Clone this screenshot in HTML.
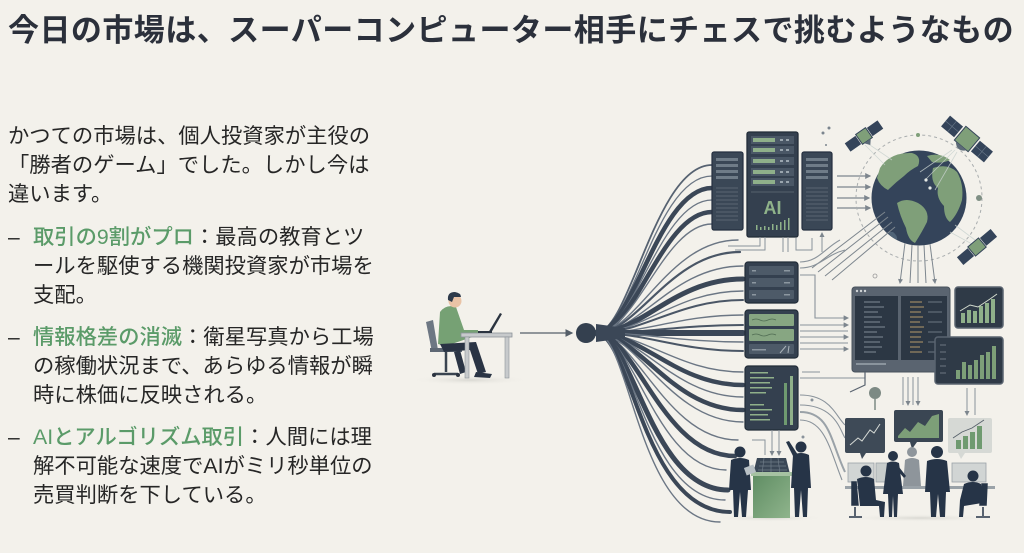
<!DOCTYPE html>
<html><head><meta charset="utf-8">
<style>
html,body{margin:0;padding:0;}
body{width:1024px;height:553px;overflow:hidden;background:#f3f1eb;position:relative;font-family:"Liberation Sans","Noto Sans CJK JP",sans-serif;}
.t{position:absolute;left:8px;top:11px;font-size:31px;font-weight:700;color:#2b303b;letter-spacing:0.45px;white-space:nowrap;line-height:40px;}
.l{position:absolute;font-size:21.3px;line-height:29px;color:#262626;white-space:nowrap;}
.g{color:#5b9b69;font-weight:500;}
.d{position:absolute;left:8px;font-size:21px;line-height:29px;color:#262626;}
svg{position:absolute;left:0;top:0;}
</style></head><body>
<svg width="1024" height="553" viewBox="0 0 1024 553">
<defs>
<marker id="ar" markerWidth="6" markerHeight="6" refX="5" refY="3" orient="auto"><path d="M0,0 L6,3 L0,6z" fill="#555f69"/></marker>
<marker id="ag" markerWidth="5" markerHeight="5" refX="4" refY="2.5" orient="auto"><path d="M0,0 L5,2.5 L0,5z" fill="#7d868e"/></marker>
<radialGradient id="sh" cx="50%" cy="50%" r="50%"><stop offset="0" stop-color="#d9d8d2"/><stop offset="1" stop-color="#f3f1eb" stop-opacity="0"/></radialGradient>
<linearGradient id="pod" x1="0" y1="0" x2="1" y2="1"><stop offset="0" stop-color="#5f8d63"/><stop offset="1" stop-color="#8fb48c"/></linearGradient>
</defs>

<!-- person at desk -->
<ellipse cx="470" cy="380" rx="60" ry="5" fill="url(#sh)"/>
<path d="M426 322 L433 320 L438 350 L432 352z" fill="#6d7783"/>
<rect x="430" y="348" width="32" height="4" fill="#5e6874"/>
<path d="M446 352 L446 372 M434 374 L458 374" stroke="#3a4450" stroke-width="2.5"/>
<circle cx="434" cy="375" r="2" fill="#2c3440"/><circle cx="458" cy="375" r="2" fill="#2c3440"/>
<path d="M440 312 Q446 304 456 307 L464 330 L478 330 L478 335 L446 346 L438 344z" fill="#76a174"/>
<circle cx="455" cy="301" r="6.5" fill="#e9c3a6"/>
<path d="M448 300 Q447 292 455 292 Q461 293 461 297 L454 297 L452 302z" fill="#2d3a4a"/>
<path d="M440 344 L476 342 L486 372 L478 374 L470 350 L444 352z" fill="#2a3444"/>
<path d="M476 372 L492 374 L490 378 L474 377z" fill="#2a3444"/>
<path d="M460 350 L466 372 L460 374 L454 352z" fill="#2a3444"/>
<rect x="461" y="333" width="51" height="4" fill="#c7cacc" stroke="#8c9399" stroke-width="0.8"/>
<rect x="465" y="337" width="4" height="41" fill="#c7cacc" stroke="#8c9399" stroke-width="0.6"/>
<rect x="505" y="337" width="4" height="41" fill="#c7cacc" stroke="#8c9399" stroke-width="0.6"/>
<path d="M488 333 L500 313 L502 314 L491 333z" fill="#2b3440"/>
<rect x="478" y="331" width="14" height="2" fill="#2b3440"/>

<!-- arrow to hub -->
<line x1="520" y1="333" x2="572" y2="333" stroke="#555f69" stroke-width="1.3" marker-end="url(#ar)"/>

<!-- fan lines -->
<g fill="none" stroke-linecap="round">
<path d="M596 333 C630 333 655 165 712 165" stroke="#566271" stroke-width="1.8"/>
<path d="M596 333 C632 333 655 176 712 176" stroke="#6b7684" stroke-width="1.3"/>
<path d="M596 333 C633 333 658 188 712 188" stroke="#3b4757" stroke-width="4.5"/>
<path d="M596 333 C634 333 660 200 712 200" stroke="#6b7684" stroke-width="1.3"/>
<path d="M596 333 C635 333 662 212 712 212" stroke="#3b4757" stroke-width="4.5"/>
<path d="M596 333 C636 333 664 224 712 224" stroke="#6b7684" stroke-width="1.4"/>
<path d="M596 333 C637 333 668 240 738 240" stroke="#6b7684" stroke-width="1.4"/>
<path d="M596 333 C638 333 670 252 740 252" stroke="#4a5666" stroke-width="2.2"/>
<path d="M596 333 C640 333 672 266 743 266" stroke="#6b7684" stroke-width="1.4"/>
<path d="M596 333 C642 333 674 279 743 279" stroke="#3b4757" stroke-width="5"/>
<path d="M596 333 C643 333 676 291 743 291" stroke="#6b7684" stroke-width="1.4"/>
<path d="M596 333 C644 333 678 300 743 300" stroke="#4a5666" stroke-width="2"/>
<path d="M596 333 C646 333 680 315 743 315" stroke="#6b7684" stroke-width="1.4"/>
<path d="M596 333 C648 333 680 325 743 325" stroke="#4a5666" stroke-width="2"/>
<path d="M596 333 L743 333" stroke="#3b4757" stroke-width="6"/>
<path d="M596 333 C648 333 680 342 743 342" stroke="#6b7684" stroke-width="1.4"/>
<path d="M596 333 C646 333 680 351 743 351" stroke="#4a5666" stroke-width="2"/>
<path d="M596 333 C644 333 678 372 743 372" stroke="#6b7684" stroke-width="1.4"/>
<path d="M596 333 C642 333 676 385 743 385" stroke="#3b4757" stroke-width="4.5"/>
<path d="M596 333 C640 333 674 397 743 397" stroke="#6b7684" stroke-width="1.4"/>
<path d="M596 333 C638 333 672 410 743 410" stroke="#3b4757" stroke-width="4.5"/>
<path d="M596 333 C637 333 670 422 743 422" stroke="#6b7684" stroke-width="1.4"/>
<path d="M596 333 C636 333 666 440 738 440" stroke="#6b7684" stroke-width="1.4"/>
<path d="M596 333 C635 333 662 456 735 456" stroke="#3b4757" stroke-width="4.5"/>
<path d="M596 333 C634 333 656 470 726 470" stroke="#6b7684" stroke-width="1.4"/>
<path d="M596 333 C633 333 650 490 728 490" stroke="#3b4757" stroke-width="5"/>
<path d="M596 333 C632 333 646 500 725 500" stroke="#6b7684" stroke-width="1.4"/>
<path d="M596 333 C631 333 642 512 730 512" stroke="#3b4757" stroke-width="4"/>
<path d="M596 333 C630 333 638 522 720 522" stroke="#6b7684" stroke-width="1.4"/>
</g>
<path d="M596 324 L625 328 L625 338 L596 342z" fill="#3b4757"/>
<circle cx="586" cy="333" r="10" fill="#34404f"/>

<!-- servers top -->
<rect x="712" y="152" width="31" height="78" rx="2" fill="#3a4756" stroke="#253040" stroke-width="1.2"/>
<g fill="#6f7c88"><rect x="716" y="158" width="22" height="3"/><rect x="716" y="164" width="22" height="3"/><rect x="716" y="170" width="22" height="3"/><rect x="716" y="176" width="22" height="3"/></g>
<g stroke="#5a6673" stroke-width="1"><line x1="716" y1="188" x2="738" y2="188"/><line x1="716" y1="192" x2="738" y2="192"/><line x1="716" y1="196" x2="738" y2="196"/><line x1="716" y1="200" x2="738" y2="200"/><line x1="716" y1="204" x2="738" y2="204"/><line x1="716" y1="208" x2="738" y2="208"/><line x1="716" y1="212" x2="738" y2="212"/><line x1="716" y1="216" x2="738" y2="216"/><line x1="716" y1="220" x2="738" y2="220"/></g>
<rect x="802" y="152" width="30" height="78" rx="2" fill="#3a4756" stroke="#253040" stroke-width="1.2"/>
<g fill="#6f7c88"><rect x="806" y="158" width="22" height="3"/><rect x="806" y="164" width="22" height="3"/><rect x="806" y="170" width="22" height="3"/><rect x="806" y="176" width="22" height="3"/></g>
<g stroke="#5a6673" stroke-width="1"><line x1="806" y1="188" x2="828" y2="188"/><line x1="806" y1="192" x2="828" y2="192"/><line x1="806" y1="196" x2="828" y2="196"/><line x1="806" y1="200" x2="828" y2="200"/><line x1="806" y1="204" x2="828" y2="204"/><line x1="806" y1="208" x2="828" y2="208"/><line x1="806" y1="212" x2="828" y2="212"/><line x1="806" y1="216" x2="828" y2="216"/><line x1="806" y1="220" x2="828" y2="220"/></g>
<rect x="747" y="132" width="51" height="105" rx="2" fill="#34404f" stroke="#222c38" stroke-width="1.3"/>
<g fill="#4a5766"><rect x="751" y="136" width="43" height="8"/><rect x="751" y="146" width="43" height="8"/><rect x="751" y="157" width="43" height="8"/><rect x="751" y="168" width="43" height="8"/><rect x="751" y="178" width="43" height="8"/></g>
<g fill="#8fb08a"><rect x="753" y="138" width="22" height="4"/><rect x="753" y="148" width="22" height="4"/><rect x="753" y="159" width="22" height="4"/><rect x="753" y="170" width="22" height="4"/><rect x="753" y="180" width="22" height="4"/></g>
<g fill="#9aa5ae"><rect x="780" y="139" width="3" height="2"/><rect x="786" y="139" width="3" height="2"/><rect x="780" y="149" width="3" height="2"/><rect x="786" y="149" width="3" height="2"/><rect x="780" y="160" width="3" height="2"/><rect x="786" y="160" width="3" height="2"/><rect x="780" y="171" width="3" height="2"/><rect x="786" y="171" width="3" height="2"/><rect x="780" y="181" width="3" height="2"/><rect x="786" y="181" width="3" height="2"/></g>
<line x1="751" y1="192" x2="794" y2="192" stroke="#56626e" stroke-width="1"/>
<text x="772.5" y="214" font-family="Liberation Sans, sans-serif" font-size="18" font-weight="700" fill="#8fb38a" text-anchor="middle">AI</text>
<g fill="#8fb38a"><rect x="756" y="225" width="1.5" height="5"/><rect x="760" y="227" width="1.5" height="3"/><rect x="764" y="226" width="1.5" height="4"/><rect x="768" y="227" width="1.5" height="3"/><rect x="772" y="224" width="1.5" height="6"/><rect x="776" y="225" width="1.5" height="5"/><rect x="780" y="222" width="1.5" height="8"/><rect x="784" y="220" width="1.5" height="10"/><rect x="788" y="218" width="1.5" height="12"/></g>
<g stroke="#8a939b" stroke-width="1" fill="none"><path d="M760 237 L760 246 L728 246"/><path d="M765 237 L765 250 L735 250"/><path d="M783 237 L783 252"/><path d="M788 237 L788 252"/><path d="M796 238 L796 250 L812 250 L812 238"/><path d="M822 252 L822 233" marker-end="url(#ag)"/></g>
<circle cx="823" cy="133" r="1.5" fill="#7b858e"/><circle cx="829" cy="128" r="1.5" fill="#7b858e"/><circle cx="826" cy="145" r="1" fill="#7b858e"/>

<!-- arrows to globe -->
<g stroke="#7d868e" stroke-width="1.2"><line x1="837" y1="176" x2="870" y2="176" marker-end="url(#ag)"/><line x1="837" y1="187" x2="870" y2="187" marker-end="url(#ag)"/><line x1="837" y1="198" x2="869" y2="198" marker-end="url(#ag)"/><line x1="837" y1="208" x2="870" y2="208" marker-end="url(#ag)"/></g>

<!-- globe -->
<circle cx="919" cy="198" r="63" fill="none" stroke="#a9adae" stroke-width="1" stroke-dasharray="3 3"/>
<circle cx="919" cy="198" r="47.5" fill="#34445a"/>
<path d="M880 168 Q890 152 912 153 Q922 156 918 166 Q910 170 904 176 Q896 182 888 190 Q880 186 877 178z" fill="#7f9f79"/>
<path d="M897 203 Q906 197 918 203 Q930 210 927 222 Q922 232 915 243 Q908 240 906 228 Q900 216 897 203z" fill="#7f9f79"/>
<path d="M933 168 Q948 163 957 172 Q964 184 962 200 Q958 214 950 222 Q944 218 944 206 Q936 198 938 188 Q930 182 933 168z" fill="#7f9f79"/>
<path d="M927 156 Q940 152 950 160 Q942 164 932 162z" fill="#7f9f79"/>
<path d="M893 232 Q898 236 897 240 Q890 237 888 232z" fill="#4f6377"/>
<g stroke="#c9d2cf" stroke-width="0.8" opacity="0.8"><line x1="955" y1="150" x2="925" y2="180"/><line x1="957" y1="152" x2="935" y2="190"/><line x1="952" y1="150" x2="920" y2="172"/><line x1="865" y1="145" x2="885" y2="165"/><line x1="867" y1="143" x2="892" y2="160"/><line x1="975" y1="240" x2="955" y2="225"/><line x1="972" y1="244" x2="950" y2="232"/></g>
<circle cx="926" cy="180" r="1.6" fill="#e6eae6"/><circle cx="930" cy="188" r="1.6" fill="#e6eae6"/>
<circle cx="979" cy="198" r="3" fill="#7f8f84"/><circle cx="918" cy="135" r="2" fill="#7f9f79"/>

<!-- satellites -->
<g transform="translate(864,136) rotate(-35)">
<rect x="-20" y="-5" width="13" height="10" fill="#34445a"/><rect x="7" y="-5" width="13" height="10" fill="#34445a"/>
<rect x="-6" y="-6" width="12" height="12" fill="#7f9f79" stroke="#34445a" stroke-width="1"/>
<path d="M-4 6 L4 6 L0 11z" fill="#5c6a77"/></g>
<g transform="translate(967,139) rotate(40)">
<rect x="-28" y="-7" width="17" height="14" fill="#34445a"/><rect x="11" y="-7" width="17" height="14" fill="#34445a"/>
<g stroke="#6b7a8a" stroke-width="0.6"><line x1="-19.5" y1="-7" x2="-19.5" y2="7"/><line x1="19.5" y1="-7" x2="19.5" y2="7"/><line x1="-28" y1="0" x2="-11" y2="0"/><line x1="11" y1="0" x2="28" y2="0"/></g>
<rect x="-9" y="-9" width="18" height="18" fill="#7f9f79" stroke="#34445a" stroke-width="1"/>
<path d="M-7 9 Q0 17 7 9z" fill="#5c6a77"/></g>
<g transform="translate(977,247) rotate(-40)">
<rect x="-22" y="-5" width="14" height="10" fill="#34445a"/><rect x="8" y="-5" width="14" height="10" fill="#34445a"/>
<rect x="-7" y="-6" width="14" height="12" fill="#7f9f79" stroke="#34445a" stroke-width="1"/></g>

<!-- globe to lower -->
<g stroke="#7d868e" stroke-width="1" fill="none"><line x1="905" y1="243" x2="900" y2="283" marker-end="url(#ag)"/><line x1="912" y1="245" x2="910" y2="283"/><line x1="918" y1="245" x2="918" y2="283"/><line x1="924" y1="245" x2="926" y2="283"/><line x1="930" y1="244" x2="935" y2="283" marker-end="url(#ag)"/>
<line x1="885" y1="212" x2="812" y2="268"/><line x1="888" y1="217" x2="818" y2="272"/><line x1="892" y1="222" x2="825" y2="276"/><line x1="895" y1="227" x2="832" y2="280"/></g>
<circle cx="875" cy="276" r="2" fill="none" stroke="#999" stroke-width="0.8"/>

<!-- middle boxes -->
<rect x="745" y="262" width="53" height="41" rx="3" fill="#34404f" stroke="#222c38" stroke-width="1.2"/>
<g fill="#4d5a68"><rect x="749" y="266" width="45" height="9" rx="1"/><rect x="749" y="278" width="45" height="9" rx="1"/><rect x="749" y="290" width="45" height="9" rx="1"/></g>
<g fill="#8c97a0"><rect x="752" y="270" width="4" height="1.5"/><rect x="784" y="270" width="6" height="1.5"/><rect x="752" y="282" width="4" height="1.5"/><rect x="784" y="282" width="6" height="1.5"/><rect x="752" y="294" width="4" height="1.5"/><rect x="784" y="294" width="6" height="1.5"/></g>
<rect x="745" y="310" width="53" height="48" rx="3" fill="#34404f" stroke="#222c38" stroke-width="1.2"/>
<rect x="749" y="314" width="45" height="12" rx="1" fill="#87a682"/><rect x="749" y="329" width="45" height="12" rx="1" fill="#87a682"/><rect x="749" y="344" width="45" height="10" rx="1" fill="#4d5a68"/>
<g stroke="#4f6b52" stroke-width="0.8" fill="none"><path d="M752 320 Q756 318 760 320 T768 320 T776 320"/><path d="M752 335 Q756 333 760 335 T768 335 T776 335"/></g>
<rect x="752" y="349" width="14" height="1.5" fill="#8c97a0"/><path d="M780 353 L786 346 M788 353 L789 346" stroke="#a9b2b9" stroke-width="1"/>
<rect x="745" y="366" width="53" height="64" rx="3" fill="#34404f" stroke="#222c38" stroke-width="1.2"/>
<g fill="#8fb08a"><rect x="750" y="372" width="18" height="1.5"/><rect x="750" y="377" width="24" height="1.5"/><rect x="750" y="382" width="20" height="1.5"/><rect x="750" y="387" width="22" height="1.5"/><rect x="750" y="392" width="16" height="1.5"/><rect x="750" y="404" width="14" height="1.5"/><rect x="750" y="409" width="22" height="1.5"/><rect x="750" y="414" width="18" height="1.5"/><rect x="750" y="419" width="20" height="1.5"/></g>
<rect x="784" y="383" width="3" height="42" fill="#6f9a70"/><rect x="790" y="376" width="3" height="49" fill="#8fb08a"/>
<g stroke="#8a939b" stroke-width="1" fill="none"><path d="M772 430 L772 455" marker-end="url(#ag)"/><path d="M779 430 L779 455" marker-end="url(#ag)"/><path d="M752 440 L765 440 L765 455"/></g>

<!-- right-side connectors -->
<g stroke="#8a939b" stroke-width="1.1" fill="none">
<path d="M800 275 L815 275 L815 318 L848 318" marker-end="url(#ag)"/>
<line x1="800" y1="325" x2="848" y2="325" marker-end="url(#ag)"/>
<line x1="800" y1="331" x2="848" y2="331"/>
<line x1="800" y1="337" x2="848" y2="337" marker-end="url(#ag)"/>
<line x1="800" y1="343" x2="848" y2="343"/>
<line x1="800" y1="349" x2="848" y2="349" marker-end="url(#ag)"/>
<path d="M800 268 C820 268 825 255 845 250"/><path d="M800 262 C818 262 825 248 840 240"/>
<path d="M800 378 L865 378 L865 372" /><path d="M802 372 L820 372"/>
<path d="M800 412 C830 412 830 440 845 472" stroke-width="2" stroke="#9aa2a8"/>
<path d="M800 420 C825 420 830 450 842 480" /><path d="M800 405 C835 405 840 430 845 438"/>
<path d="M800 395 C830 395 835 415 845 425"/>
</g>

<!-- data screens -->
<rect x="852" y="287" width="98" height="85" rx="3" fill="#5a6470" stroke="#48525d" stroke-width="1"/>
<circle cx="857" cy="291" r="1.2" fill="#d0d4d6"/><circle cx="861" cy="291" r="1.2" fill="#d0d4d6"/><circle cx="865" cy="291" r="1.2" fill="#d0d4d6"/>
<rect x="855" y="296" width="43" height="64" fill="#2c3744"/><rect x="901" y="296" width="46" height="64" fill="#2c3744"/>
<g stroke="#7f8b96" stroke-width="1"><line x1="864" y1="302" x2="880" y2="302"/><line x1="864" y1="307" x2="884" y2="307"/><line x1="864" y1="312" x2="878" y2="312"/><line x1="864" y1="317" x2="882" y2="317"/><line x1="864" y1="322" x2="880" y2="322"/><line x1="864" y1="327" x2="885" y2="327"/><line x1="864" y1="332" x2="877" y2="332"/><line x1="864" y1="337" x2="883" y2="337"/><line x1="864" y1="342" x2="880" y2="342"/><line x1="864" y1="347" x2="882" y2="347"/><line x1="864" y1="352" x2="876" y2="352"/></g>
<g stroke="#b49a6a" stroke-width="1"><line x1="910" y1="302" x2="922" y2="302"/><line x1="910" y1="307" x2="924" y2="307"/><line x1="910" y1="312" x2="921" y2="312"/><line x1="910" y1="317" x2="923" y2="317"/><line x1="910" y1="322" x2="920" y2="322"/><line x1="910" y1="327" x2="924" y2="327"/><line x1="910" y1="332" x2="922" y2="332"/><line x1="910" y1="337" x2="921" y2="337"/><line x1="910" y1="342" x2="923" y2="342"/><line x1="910" y1="347" x2="920" y2="347"/><line x1="910" y1="352" x2="922" y2="352"/></g>
<g stroke="#6c7782" stroke-width="1"><line x1="928" y1="302" x2="942" y2="302"/><line x1="928" y1="312" x2="942" y2="312"/><line x1="928" y1="322" x2="942" y2="322"/><line x1="928" y1="332" x2="942" y2="332"/><line x1="928" y1="342" x2="942" y2="342"/><line x1="928" y1="352" x2="942" y2="352"/></g>
<rect x="856" y="363" width="30" height="2" fill="#8a949d"/>
<rect x="955" y="287" width="48" height="41" rx="3" fill="#2f3a47" stroke="#5a6470" stroke-width="1.5"/>
<g fill="#8fb08a"><rect x="961" y="313" width="4" height="10"/><rect x="967" y="310" width="4" height="13"/><rect x="973" y="311" width="4" height="12"/><rect x="979" y="306" width="4" height="17"/><rect x="985" y="303" width="4" height="20"/><rect x="991" y="299" width="4" height="24"/></g>
<path d="M960 311 L970 305 L978 307 L990 299 L997 294" stroke="#d4dccf" stroke-width="1" fill="none"/>
<rect x="935" y="337" width="68" height="47" rx="3" fill="#2f3a47" stroke="#5a6470" stroke-width="1.5"/>
<g fill="#7d9f78"><rect x="956" y="370" width="4" height="9"/><rect x="962" y="362" width="4" height="17"/><rect x="968" y="365" width="4" height="14"/><rect x="974" y="360" width="4" height="19"/><rect x="980" y="355" width="4" height="24"/><rect x="986" y="352" width="4" height="27"/><rect x="992" y="346" width="4" height="33"/></g>
<g stroke="#6c7782" stroke-width="1"><line x1="940" y1="345" x2="946" y2="345"/><line x1="940" y1="352" x2="946" y2="352"/><line x1="940" y1="359" x2="946" y2="359"/><line x1="940" y1="366" x2="946" y2="366"/><line x1="940" y1="373" x2="946" y2="373"/></g>
<path d="M865 372 L865 385 L850 392" stroke="#5a6470" stroke-width="1.2" fill="none"/>
<circle cx="875" cy="393" r="6" fill="#7d8a84"/><line x1="875" y1="399" x2="875" y2="410" stroke="#7d8a84" stroke-width="1.5"/>
<g stroke="#8a939b" stroke-width="1" fill="none"><line x1="903" y1="377" x2="903" y2="405"/><line x1="908" y1="377" x2="908" y2="405" marker-end="url(#ag)"/><line x1="913" y1="377" x2="913" y2="405"/><line x1="918" y1="377" x2="918" y2="405" marker-end="url(#ag)"/><line x1="967" y1="388" x2="967" y2="415" marker-end="url(#ag)"/><line x1="975" y1="388" x2="975" y2="415"/></g>

<!-- bottom scene left -->
<ellipse cx="770" cy="518" rx="55" ry="4" fill="url(#sh)"/>
<path d="M757 458 L786 458 L790 474 L753 474z" fill="#3a4756"/>
<g stroke="#6f7c88" stroke-width="0.7"><line x1="760" y1="462" x2="784" y2="462"/><line x1="759" y1="466" x2="786" y2="466"/><line x1="758" y1="470" x2="787" y2="470"/><line x1="764" y1="458" x2="762" y2="474"/><line x1="771" y1="458" x2="771" y2="474"/><line x1="778" y1="458" x2="780" y2="474"/></g>
<rect x="753" y="474" width="37" height="44" fill="url(#pod)"/>
<rect x="751" y="472" width="41" height="4" fill="#a6c2a2"/>
<circle cx="740" cy="452" r="5.5" fill="#263447"/>
<path d="M731 460 Q740 456 749 460 L751 490 L748 490 L746 517 L742 517 L740 492 L738 517 L734 517 L733 490 L729 490z" fill="#263447"/>
<rect x="745" y="466" width="10" height="8" fill="#b9c1c6" transform="rotate(-20 750 470)"/>
<circle cx="801" cy="447" r="5.5" fill="#263447"/>
<path d="M793 455 Q801 451 809 455 L811 488 L808 488 L807 517 L803 517 L801 490 L799 517 L795 517 L794 488 L791 488z" fill="#263447"/>
<path d="M794 458 L786 442 L789 441 L798 455z" fill="#263447"/>

<!-- chart bubbles -->
<rect x="845" y="418" width="40" height="35" rx="2" fill="#3e4a57"/><path d="M860 453 L866 453 L862 459z" fill="#3e4a57"/>
<path d="M850 445 L858 438 L862 441 L870 430 L874 433 L880 424" stroke="#d6dad6" stroke-width="1" fill="none"/>
<rect x="894" y="410" width="49" height="32" rx="2" fill="#3a4653"/><path d="M910 442 L917 442 L912 449z" fill="#3a4653"/>
<path d="M898 436 L905 428 L910 432 L918 422 L925 426 L932 416 L939 414 L939 438 L898 438z" fill="#7d9f78"/>
<rect x="948" y="418" width="44" height="35" rx="2" fill="#d6d9d5"/><path d="M958 453 L965 453 L961 459z" fill="#d6d9d5"/>
<g fill="#6f9a70"><rect x="956" y="440" width="5" height="9"/><rect x="963" y="436" width="5" height="13"/><rect x="970" y="432" width="5" height="17"/><rect x="977" y="426" width="5" height="23"/></g>
<path d="M953 438 L962 432 L972 428 L984 420" stroke="#555f69" stroke-width="0.8" fill="none"/>

<!-- bottom scene right -->
<ellipse cx="920" cy="518" rx="80" ry="4" fill="url(#sh)"/>
<rect x="848" y="463" width="26" height="19" fill="#d1d5d4" stroke="#9aa2a8" stroke-width="0.8"/>
<rect x="876" y="463" width="20" height="19" fill="#c8cdcc" stroke="#9aa2a8" stroke-width="0.8"/>
<rect x="952" y="463" width="34" height="19" fill="#d1d5d4" stroke="#9aa2a8" stroke-width="0.8"/>
<rect x="845" y="486" width="150" height="3" fill="#9aa2a8"/>
<circle cx="912" cy="452" r="5" fill="#8e959b"/>
<path d="M905 460 Q912 456 919 460 L921 486 L903 486z" fill="#8e959b"/>
<circle cx="866" cy="471" r="5.5" fill="#263447"/>
<path d="M857 479 Q866 475 874 479 L876 500 L885 502 L884 517 L880 517 L879 506 L860 506z" fill="#263447"/>
<path d="M852 482 L856 482 L858 505 L852 505z M855 507 L855 516 M849 517 L862 517" fill="#263447" stroke="#263447" stroke-width="1.5"/>
<circle cx="893" cy="456" r="5" fill="#263447"/>
<path d="M887 463 Q893 460 899 463 L903 494 L898 494 L897 517 L894 517 L893 496 L892 517 L889 517 L888 494 L883 494z" fill="#263447"/>
<path d="M899 467 L906 476 L904 478 L898 471z" fill="#263447"/>
<circle cx="937" cy="452" r="6" fill="#263447"/>
<path d="M927 461 Q937 457 947 461 L950 492 L946 492 L945 517 L940 517 L938 494 L936 517 L931 517 L930 492 L925 492z" fill="#263447"/>
<circle cx="973" cy="476" r="5.5" fill="#263447"/>
<path d="M964 484 Q973 480 981 484 L982 503 L964 506 L963 517 L959 517 L960 500z" fill="#263447"/>
<path d="M982 484 L987 484 L986 505 L980 505z M983 507 L983 516 M976 517 L990 517" fill="#263447" stroke="#263447" stroke-width="1.5"/>
<circle cx="803" cy="437" r="1.5" fill="#8a939b"/><circle cx="812" cy="400" r="1.5" fill="#8a939b"/>
</svg>

<div class="t">今日の市場は、スーパーコンピューター相手にチェスで挑むようなもの</div>

<div class="l" style="left:8px;top:122px;">かつての市場は、個人投資家が主役の</div>
<div class="l" style="left:8px;top:151px;">「勝者のゲーム」でした。しかし今は</div>
<div class="l" style="left:8px;top:180px;">違います。</div>

<div class="d" style="top:223px;">–</div>
<div class="l" style="left:33px;top:223px;"><span class="g">取引の9割がプロ</span>：最高の教育とツ</div>
<div class="l" style="left:33px;top:252px;">ールを駆使する機関投資家が市場を</div>
<div class="l" style="left:33px;top:281px;">支配。</div>

<div class="d" style="top:323px;">–</div>
<div class="l" style="left:33px;top:323px;"><span class="g">情報格差の消滅</span>：衛星写真から工場</div>
<div class="l" style="left:33px;top:352px;">の稼働状況まで、あらゆる情報が瞬</div>
<div class="l" style="left:33px;top:381px;">時に株価に反映される。</div>

<div class="d" style="top:423px;">–</div>
<div class="l" style="left:33px;top:423px;"><span class="g">AIとアルゴリズム取引</span>：人間には理</div>
<div class="l" style="left:33px;top:452px;">解不可能な速度でAIがミリ秒単位の</div>
<div class="l" style="left:33px;top:481px;">売買判断を下している。</div>
</body></html>
